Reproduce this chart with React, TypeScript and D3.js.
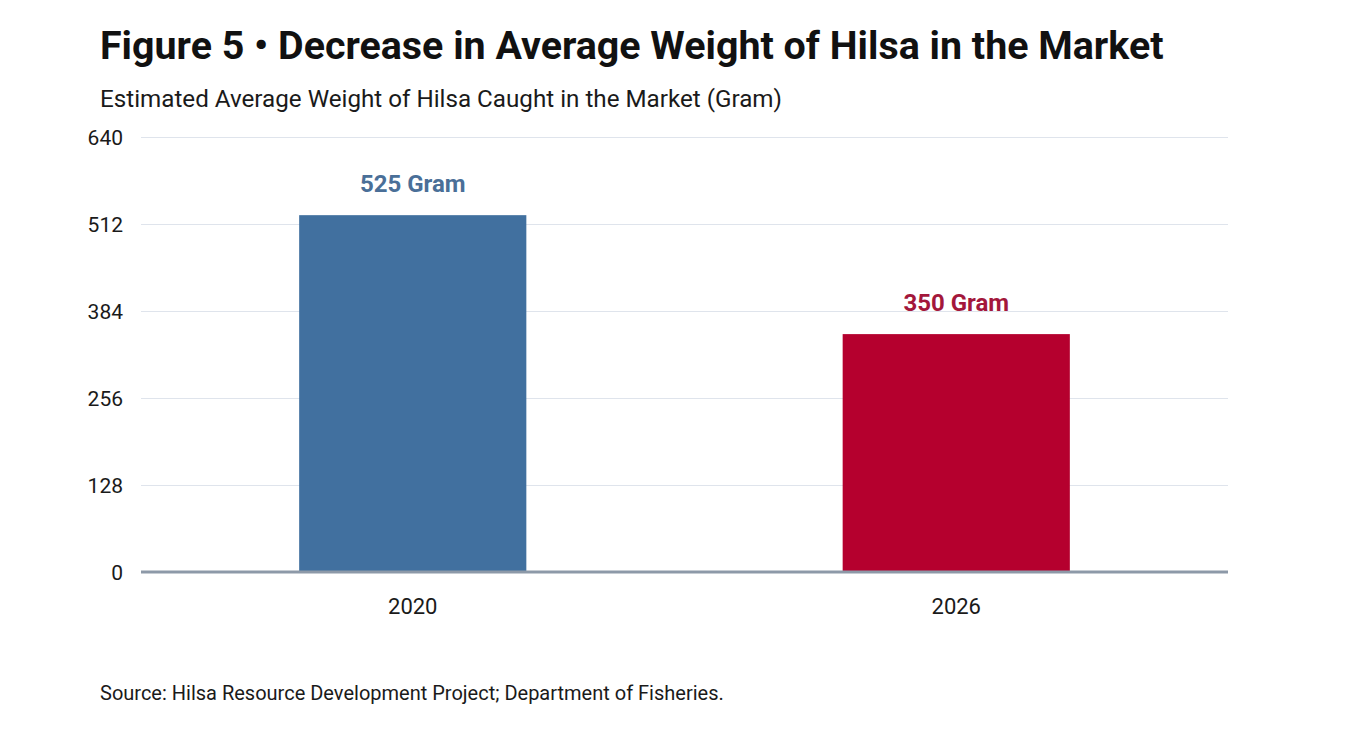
import React, { useEffect, useRef } from 'react';
import * as d3 from 'd3';

const years = ['2020', '2026'];
const weights = [525, 350];
const barColors = ['#41709f', '#b5002e'];
const labelColors = ['#4a6f98', '#a3173b'];
const yTicks = [0, 128, 256, 384, 512, 640];

const title = 'Figure 5 • Decrease in Average Weight of Hilsa in the Market';
const subtitle = 'Estimated Average Weight of Hilsa Caught in the Market (Gram)';
const source = 'Source: Hilsa Resource Development Project; Department of Fisheries.';

const App: React.FC = () => {
  const svgRef = useRef<SVGSVGElement>(null);

  useEffect(() => {
    if (!svgRef.current) return;
    const width = 1366;
    const height = 751;
    const svg = d3.select(svgRef.current);
    svg.selectAll('*').remove();

    const margin = { top: 137, right: 138, bottom: 179, left: 141 };
    const innerWidth = width - margin.left - margin.right;
    const innerHeight = height - margin.top - margin.bottom;

    svg.append('rect').attr('width', width).attr('height', height).attr('fill', '#ffffff');

    // titles
    svg.append('text')
      .attr('x', 100)
      .attr('y', 59)
      .attr('font-size', '39.4px')
      .attr('font-weight', 'bold')
      .attr('fill', '#111111')
      .text(title);

    svg.append('text')
      .attr('x', 100)
      .attr('y', 107)
      .attr('font-size', '24.2px')
      .attr('fill', '#1a1a1a')
      .text(subtitle);

    const g = svg.append('g').attr('transform', `translate(${margin.left},${margin.top})`);

    const x = d3.scaleBand<string>()
      .domain(years)
      .range([0, innerWidth])
      .paddingInner(0.582)
      .paddingOuter(0.291);

    const y = d3.scaleLinear().domain([0, 640]).range([innerHeight, 0]);

    // grid lines
    g.append('g')
      .call(d3.axisLeft(y).tickValues(yTicks).tickSize(-innerWidth).tickFormat(() => ''))
      .call(s => s.select('.domain').remove())
      .selectAll('line')
      .attr('stroke', '#dfe4ec')
      .attr('stroke-width', 1.2);

    // y tick labels
    g.append('g')
      .selectAll('text')
      .data(yTicks)
      .join('text')
      .attr('x', -18)
      .attr('y', d => y(d))
      .attr('dy', '0.36em')
      .attr('text-anchor', 'end')
      .attr('font-size', '21px')
      .attr('fill', '#1a1a1a')
      .text(d => d);

    // bars
    g.selectAll('rect.bar')
      .data(weights)
      .join('rect')
      .attr('class', 'bar')
      .attr('x', (_, i) => x(years[i])!)
      .attr('y', d => y(d))
      .attr('width', x.bandwidth())
      .attr('height', d => innerHeight - y(d))
      .attr('fill', (_, i) => barColors[i]);

    // value labels
    g.selectAll('text.value')
      .data(weights)
      .join('text')
      .attr('class', 'value')
      .attr('x', (_, i) => x(years[i])! + x.bandwidth() / 2)
      .attr('y', d => y(d) - 23)
      .attr('text-anchor', 'middle')
      .attr('font-size', '24px')
      .attr('font-weight', 'bold')
      .attr('fill', (_, i) => labelColors[i])
      .text(d => `${d} Gram`);

    // baseline
    g.append('line')
      .attr('x1', 0)
      .attr('x2', innerWidth)
      .attr('y1', innerHeight)
      .attr('y2', innerHeight)
      .attr('stroke', '#8d99a8')
      .attr('stroke-width', 3);

    // x labels
    g.append('g')
      .selectAll('text')
      .data(years)
      .join('text')
      .attr('x', d => x(d)! + x.bandwidth() / 2)
      .attr('y', innerHeight + 42)
      .attr('text-anchor', 'middle')
      .attr('font-size', '22px')
      .attr('fill', '#1a1a1a')
      .text(d => d);

    svg.append('text')
      .attr('x', 100)
      .attr('y', 700)
      .attr('font-size', '20px')
      .attr('fill', '#1a1a1a')
      .text(source);
  }, []);

  return (
    <svg
      ref={svgRef}
      width={1366}
      height={751}
      style={{ position: 'absolute', left: 0, top: 0, fontFamily: 'Roboto, "Noto Sans", sans-serif' }}
    />
  );
};

export default App;
